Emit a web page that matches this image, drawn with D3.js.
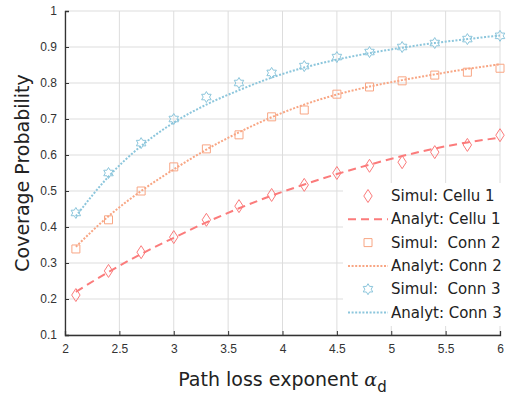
<!DOCTYPE html>
<html lang="en">
<head>
<meta charset="UTF-8">
<title>Coverage Probability vs Path loss exponent</title>
<style>
    body { margin: 0; background: #fff; }
    svg { display: block; font-family: "DejaVu Sans", sans-serif; }
    .tick text { fill: #333; font-size: 12px; }
</style>
</head>
<body>
<div id="chart"></div>
<script src="https://d3js.org/d3.v7.min.js"></script>
<script>
    // data
    const alphaVals = [2.1, 2.4, 2.7, 3.0, 3.3, 3.6, 3.9, 4.2, 4.5, 4.8, 5.1, 5.4, 5.7, 6.0];
    const simCellu1 = [0.211, 0.278, 0.33, 0.372, 0.42, 0.458, 0.489, 0.517, 0.55, 0.57, 0.58, 0.608, 0.628, 0.655];
    const anaCellu1 = [0.22, 0.275, 0.325, 0.37, 0.413, 0.452, 0.487, 0.518, 0.547, 0.573, 0.597, 0.618, 0.635, 0.648];
    const simConn2 = [0.339, 0.42, 0.5, 0.567, 0.617, 0.656, 0.706, 0.725, 0.769, 0.789, 0.806, 0.822, 0.83, 0.841];
    const anaConn2 = [0.345, 0.43, 0.5, 0.56, 0.615, 0.663, 0.705, 0.74, 0.768, 0.79, 0.808, 0.824, 0.839, 0.852];
    const simConn3 = [0.439, 0.55, 0.633, 0.7, 0.761, 0.8, 0.828, 0.847, 0.872, 0.886, 0.9, 0.911, 0.922, 0.931];
    const anaConn3 = [0.43, 0.54, 0.625, 0.69, 0.74, 0.78, 0.815, 0.843, 0.865, 0.883, 0.898, 0.911, 0.922, 0.932];
    const xTicks = [2, 2.5, 3, 3.5, 4, 4.5, 5, 5.5, 6];
    const yTicks = [0.1, 0.2, 0.3, 0.4, 0.5, 0.6, 0.7, 0.8, 0.9, 1];

    const red = "#fb7b7b", orange = "#f8a684", blue = "#8cc6dc";

    const W = 511, H = 403;
    const margin = { top: 11, right: 11, bottom: 68, left: 65 };
    const width = W - margin.left - margin.right,
        height = H - margin.top - margin.bottom;

    const svg = d3.select("#chart").append("svg")
        .attr("width", W)
        .attr("height", H);

    const x = d3.scaleLinear().domain([2, 6]).range([0, width]);
    const y = d3.scaleLinear().domain([0.1, 1]).range([height, 0]);

    const g = svg.append("g").attr("transform", `translate(${margin.left},${margin.top})`);

    // grid
    g.append("g").selectAll("line").data(xTicks).enter().append("line")
        .attr("x1", d => x(d)).attr("x2", d => x(d))
        .attr("y1", 0).attr("y2", height)
        .attr("stroke", "#ddd").attr("stroke-width", 1);
    g.append("g").selectAll("line").data(yTicks).enter().append("line")
        .attr("x1", 0).attr("x2", width)
        .attr("y1", d => y(d)).attr("y2", d => y(d))
        .attr("stroke", "#ddd").attr("stroke-width", 1);

    // axes
    const xAxis = g.append("g")
        .attr("transform", `translate(0,${height})`)
        .call(d3.axisBottom(x).tickValues(xTicks).tickSize(-4).tickPadding(9).tickFormat(d3.format("")));
    const yAxis = g.append("g")
        .call(d3.axisLeft(y).tickValues(yTicks).tickSize(-4).tickPadding(8).tickFormat(d => d === 1 ? "1" : d3.format(".1f")(d)));
    [xAxis, yAxis].forEach(a => {
        a.select(".domain").attr("stroke", "#333").attr("stroke-width", 1.3);
        a.selectAll(".tick line").attr("stroke", "#333");
    });

    // curves
    const line = d3.line()
        .x((d, i) => x(alphaVals[i]))
        .y(d => y(d))
        .curve(d3.curveMonotoneX);

    const series = [
        { sim: simCellu1, ana: anaCellu1, color: red, dash: "8,5", shape: "diamond", simLabel: "Simul: Cellu 1", anaLabel: "Analyt: Cellu 1" },
        { sim: simConn2, ana: anaConn2, color: orange, dash: "2,1.6", shape: "square", simLabel: "Simul:  Conn 2", anaLabel: "Analyt: Conn 2" },
        { sim: simConn3, ana: anaConn3, color: blue, dash: "2,1.6", shape: "star", simLabel: "Simul:  Conn 3", anaLabel: "Analyt: Conn 3" }
    ];

    // marker shapes
    function markerPath(shape) {
        if (shape === "diamond") return "M0,-6.5L4.2,0L0,6.5L-4.2,0Z";
        if (shape === "square") return "M-4,-4H4V4H-4Z";
        // six pointed star (hexagram)
        let p = "";
        for (let k = 0; k < 12; k++) {
            const r = k % 2 === 0 ? 5.5 : 3.2;
            const a = -Math.PI / 2 + k * Math.PI / 6;
            p += (k === 0 ? "M" : "L") + (r * Math.cos(a)).toFixed(2) + "," + (r * Math.sin(a)).toFixed(2);
        }
        return p + "Z";
    }

    series.forEach(s => {
        g.append("path")
            .datum(s.ana)
            .attr("d", line)
            .attr("fill", "none")
            .attr("stroke", s.color)
            .attr("stroke-width", 2)
            .attr("stroke-dasharray", s.dash);

        g.append("g").selectAll("path")
            .data(s.sim)
            .enter().append("path")
            .attr("transform", (d, i) => `translate(${x(alphaVals[i])},${y(d)})`)
            .attr("d", markerPath(s.shape))
            .attr("fill", "none")
            .attr("stroke", s.color)
            .attr("stroke-width", 1);
    });

    // legend
    const legend = svg.append("g").attr("transform", "translate(343,183)");
    legend.append("rect")
        .attr("width", 166).attr("height", 143)
        .attr("fill", "#fff");
    const rows = [];
    series.forEach(s => {
        rows.push({ label: s.simLabel, color: s.color, shape: s.shape });
        rows.push({ label: s.anaLabel, color: s.color, dash: s.dash });
    });
    rows.forEach((r, i) => {
        const row = legend.append("g").attr("transform", `translate(0,${13 + i * 23.3})`);
        if (r.shape) {
            row.append("path")
                .attr("transform", "translate(25,0)")
                .attr("d", markerPath(r.shape))
                .attr("fill", "none")
                .attr("stroke", r.color);
        } else {
            row.append("line")
                .attr("x1", 5).attr("x2", 45)
                .attr("stroke", r.color)
                .attr("stroke-width", 2)
                .attr("stroke-dasharray", r.dash);
        }
        row.append("text")
            .attr("x", 48)
            .attr("y", 5)
            .attr("font-size", 15)
            .attr("fill", "#222")
            .attr("xml:space", "preserve")
            .style("white-space", "pre")
            .text(r.label);
    });

    // axis titles
    svg.append("text")
        .attr("transform", `translate(29,${margin.top + height / 2}) rotate(-90)`)
        .attr("text-anchor", "middle")
        .attr("font-size", 19)
        .attr("fill", "#222")
        .text("Coverage Probability");

    const xt = svg.append("text")
        .attr("x", margin.left + width / 2)
        .attr("y", 386)
        .attr("text-anchor", "middle")
        .attr("font-size", 19)
        .attr("fill", "#222");
    xt.append("tspan").text("Path loss exponent ");
    xt.append("tspan").attr("font-style", "italic").attr("font-family", "DejaVu Serif, serif").text("α");
    xt.append("tspan").attr("dy", 6).attr("font-size", 15).text("d");
</script>
</body>
</html>
